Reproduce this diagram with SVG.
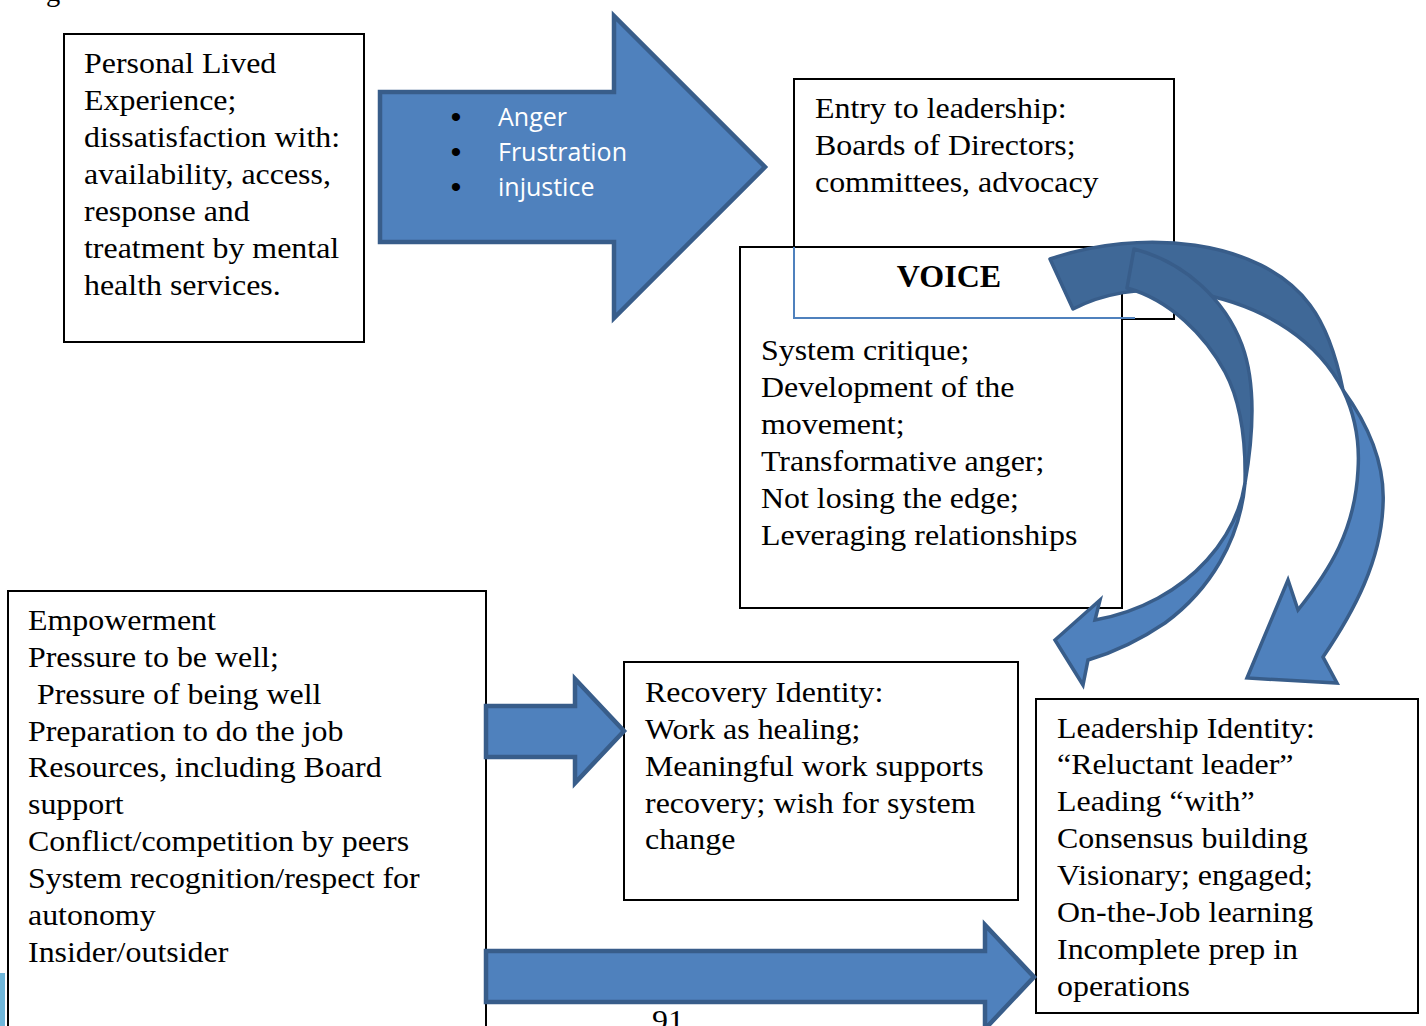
<svg xmlns="http://www.w3.org/2000/svg" width="1426" height="1026" viewBox="0 0 1426 1026">
<style>
.box{fill:#fff;stroke:#000;stroke-width:2}
.t{font-family:"Liberation Serif","Times New Roman",serif;font-size:28.5px;fill:#000}
.b{font-family:"Liberation Serif","Times New Roman",serif;font-size:32px;font-weight:bold;fill:#000}
.w{font-family:"Open Sans",sans-serif;font-size:25px;fill:#fff}
.bul{font-family:"Liberation Sans",Arial,sans-serif;font-size:30px;fill:#000}
.arr{fill:#4F81BD;stroke:#385D8A;stroke-width:4.5;stroke-linejoin:miter}
.carr{fill:#4F81BD;stroke:#385D8A;stroke-width:3.5;stroke-linejoin:miter}
.back{fill:#3F6897;stroke:#385D8A;stroke-width:3.5;stroke-linejoin:round}
</style>
<rect width="1426" height="1026" fill="#fff"/>
<text class="t" x="46" y="1">g</text>
<rect x="0" y="973" width="5" height="53" fill="#6FB7DB"/>
<text class="t" x="652" y="1030" transform="translate(652,0) scale(1.12,1) translate(-652,0)">91</text>

<g id="personal">
<rect class="box" x="64" y="34" width="300" height="308"/>
<g transform="translate(84,-2) scale(1.12,1)">
<text class="t" x="0" y="75">Personal Lived</text>
<text class="t" x="0" y="112">Experience;</text>
<text class="t" x="0" y="149">dissatisfaction with:</text>
<text class="t" x="0" y="186">availability, access,</text>
<text class="t" x="0" y="223">response and</text>
<text class="t" x="0" y="260">treatment by mental</text>
<text class="t" x="0" y="297">health services.</text>
</g>
</g>

<g id="entry">
<rect class="box" x="794" y="79" width="380" height="240"/>
<g transform="translate(815,-2) scale(1.12,1)">
<text class="t" x="0" y="120">Entry to leadership:</text>
<text class="t" x="0" y="157">Boards of Directors;</text>
<text class="t" x="0" y="194">committees, advocacy</text>
</g>
</g>

<g id="voice">
<rect class="box" x="740" y="247" width="382" height="361"/>
<polyline points="794,247 794,318 1135,318" fill="none" stroke="#4F81BD" stroke-width="2"/>
<text class="b" x="949" y="287" text-anchor="middle">VOICE</text>
<g transform="translate(761,-2) scale(1.12,1)">
<text class="t" x="0" y="362">System critique;</text>
<text class="t" x="0" y="399">Development of the</text>
<text class="t" x="0" y="436">movement;</text>
<text class="t" x="0" y="473">Transformative anger;</text>
<text class="t" x="0" y="510">Not losing the edge;</text>
<text class="t" x="0" y="547">Leveraging relationships</text>
</g>
</g>

<g id="empowerment">
<rect class="box" x="8" y="591" width="478" height="445"/>
<g transform="translate(28,-2) scale(1.12,1)">
<text class="t" x="0" y="632">Empowerment</text>
<text class="t" x="0" y="669">Pressure to be well;</text>
<text class="t" x="8" y="706">Pressure of being well</text>
<text class="t" x="0" y="743">Preparation to do the job</text>
<text class="t" x="0" y="779">Resources, including Board</text>
<text class="t" x="0" y="816">support</text>
<text class="t" x="0" y="853">Conflict/competition by peers</text>
<text class="t" x="0" y="890">System recognition/respect for</text>
<text class="t" x="0" y="927">autonomy</text>
<text class="t" x="0" y="964">Insider/outsider</text>
</g>
</g>

<g id="recovery">
<rect class="box" x="624" y="662" width="394" height="238"/>
<g transform="translate(645,-2) scale(1.12,1)">
<text class="t" x="0" y="704">Recovery Identity:</text>
<text class="t" x="0" y="741">Work as healing;</text>
<text class="t" x="0" y="778">Meaningful work supports</text>
<text class="t" x="0" y="815">recovery; wish for system</text>
<text class="t" x="0" y="851">change</text>
</g>
</g>

<g id="leadership">
<rect class="box" x="1036" y="699" width="382" height="314"/>
<g transform="translate(1057,-2) scale(1.12,1)">
<text class="t" x="0" y="740">Leadership Identity:</text>
<text class="t" x="0" y="776">“Reluctant leader”</text>
<text class="t" x="0" y="813">Leading “with”</text>
<text class="t" x="0" y="850">Consensus building</text>
<text class="t" x="0" y="887">Visionary; engaged;</text>
<text class="t" x="0" y="924">On-the-Job learning</text>
<text class="t" x="0" y="961">Incomplete prep in</text>
<text class="t" x="0" y="998">operations</text>
</g>
</g>

<g id="connectors">
<g id="arrow-emotions">
<polygon class="arr" points="380,92 614,92 614,16 765,167 614,318 614,242 380,242"/>
<text class="bul" x="456" y="127" text-anchor="middle">•</text>
<text class="bul" x="456" y="162" text-anchor="middle">•</text>
<text class="bul" x="456" y="197" text-anchor="middle">•</text>
<text class="w" x="498" y="126">Anger</text>
<text class="w" x="498" y="161">Frustration</text>
<text class="w" x="498" y="196">injustice</text>
</g>
<polygon class="arr" points="486,706 575,706 575,679 624,731 575,783 575,757 486,757"/>
<polygon class="arr" points="486,951 985,951 985,925 1034,977 985,1029 985,1002 486,1002"/>
<g id="curved-outer">
<path class="back" d="M1050,259 C1140,228 1260,238 1310,305 C1325,325 1336,355 1343,390 C1320,345 1270,305 1190,292 C1140,285 1100,295 1073,309 Z"/>
<path class="carr" d="M1343,390 C1372,430 1385,470 1383,505 C1381,560 1355,610 1323,657 L1337,683 L1247,678 L1288,580 L1298,610 C1330,570 1355,530 1358,470 C1360,440 1355,415 1343,390 Z"/>
</g>
<g id="curved-inner">
<path class="back" d="M1134,249 C1185,262 1225,300 1242,345 C1253,375 1256,420 1245,483 C1246,440 1240,400 1225,372 C1205,335 1170,300 1127,288 Z"/>
<path class="carr" d="M1245,483 C1240,540 1210,590 1165,623 C1140,640 1115,652 1088,660 L1083,685 L1055,640 L1100,600 L1095,620 C1140,612 1180,590 1207,560 C1225,540 1240,515 1245,483 Z"/>
</g>
</g>
</svg>
